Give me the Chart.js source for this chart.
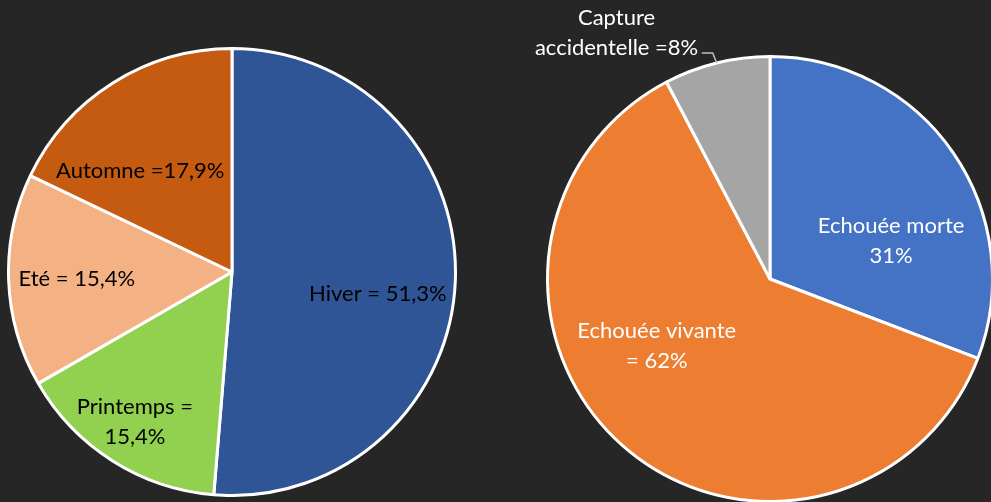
<!DOCTYPE html>
<html>
<head>
<meta charset="utf-8">
<script src="https://cdn.jsdelivr.net/npm/chart.js@4.4.0/dist/chart.umd.min.js"></script>
<style>
  html, body { margin: 0; padding: 0; background: #262626; overflow: hidden; width: 991px; height: 502px; }
  #saisons { position: absolute; left: 7px; top: 47px; width: 450px; height: 450px; }
  #origine { position: absolute; left: 496px; top: 0; width: 550px; height: 510px; }
</style>
</head>
<body>
<div id="saisons"><canvas id="saisonChart"></canvas></div>
<div id="origine"><canvas id="origineChart"></canvas></div>
<script>
// Left pie: season
var saisonLabels = ['Hiver', 'Printemps', 'Eté', 'Automne'];
var saisonValues = [51.3, 15.4, 15.4, 17.9];
var saisonText = [['Hiver = 51,3%'], ['Printemps =', '15,4%'], ['Eté = 15,4%'], ['Automne =17,9%']];
var saisonColors = ['#2F5597', '#92D050', '#F4B183', '#C55A11'];

// Right pie: origin
var origineLabels = ['Echouée morte', 'Echouée vivante', 'Capture accidentelle'];
var origineValues = [30.8, 61.5, 7.7];
var origineText = [['Echouée morte', '31%'], ['Echouée vivante', '= 62%'], ['Capture', 'accidentelle =8%']];
var origineColors = ['#4472C4', '#ED7D31', '#A5A5A5'];

// label spot: degrees clockwise from top, distance as share of radius
var saisonPlace = [[98.6, 0.66], [212.9, 0.80], [267.4, 0.695], [317.7, 0.61]];
var originePlace = [[72.7, 0.57], [239.6, 0.59], [328.1, 1.305]];

var sliceLabels = {
  id: 'sliceLabels',
  afterDatasetsDraw: function (chart, args, opts) {
    var ctx = chart.ctx;
    var arcs = chart.getDatasetMeta(0).data;
    ctx.save();
    ctx.font = opts.size + 'px Lato';
    ctx.fillStyle = opts.color;
    ctx.textAlign = 'center';
    ctx.textBaseline = 'middle';
    arcs.forEach(function (arc, i) {
      var p = arc.getProps(['x', 'y', 'outerRadius', 'startAngle', 'endAngle'], true);
      var a = (opts.place[i][0] - 90) * Math.PI / 180;
      var d = opts.place[i][1] * p.outerRadius;
      var cx = p.x + Math.cos(a) * d;
      var cy = p.y + Math.sin(a) * d;
      var lines = opts.text[i];
      lines.forEach(function (t, k) {
        ctx.fillText(t, cx, cy + (k - (lines.length - 1) / 2) * opts.lineHeight);
      });
      if (d > p.outerRadius) {
        // leader line for the label outside the pie
        var mid = (p.startAngle + p.endAngle) / 2;
        var ax = p.x + Math.cos(mid) * p.outerRadius;
        var ay = p.y + Math.sin(mid) * p.outerRadius;
        ctx.strokeStyle = '#BFBFBF';
        ctx.lineWidth = 1.5;
        ctx.beginPath();
        ctx.moveTo(ax, ay);
        ctx.lineTo(ax - 4, ay - 10);
        ctx.lineTo(ax - 15, ay - 10);
        ctx.stroke();
      }
    });
    ctx.restore();
  }
};

var pieOptions = function (text, place, color, pad) {
  return {
    responsive: true,
    maintainAspectRatio: false,
    animation: false,
    layout: { padding: pad },
    events: [],
    plugins: {
      legend: { display: false },
      tooltip: { enabled: false },
      sliceLabels: { text: text, place: place, color: color, size: 22, lineHeight: 30 }
    }
  };
};

new Chart(document.getElementById('saisonChart'), {
  type: 'pie',
  data: {
    labels: saisonLabels,
    datasets: [{
      data: saisonValues,
      backgroundColor: saisonColors,
      borderColor: '#FFFFFF',
      borderWidth: 3
    }]
  },
  options: pieOptions(saisonText, saisonPlace, '#000000', 0),
  plugins: [sliceLabels]
});

new Chart(document.getElementById('origineChart'), {
  type: 'pie',
  data: {
    labels: origineLabels,
    datasets: [{
      data: origineValues,
      backgroundColor: origineColors,
      borderColor: '#FFFFFF',
      borderWidth: 3
    }]
  },
  options: pieOptions(origineText, originePlace, '#FFFFFF', { left: 50, top: 55, right: 52, bottom: 7 }),
  plugins: [sliceLabels]
});
</script>
</body>
</html>
